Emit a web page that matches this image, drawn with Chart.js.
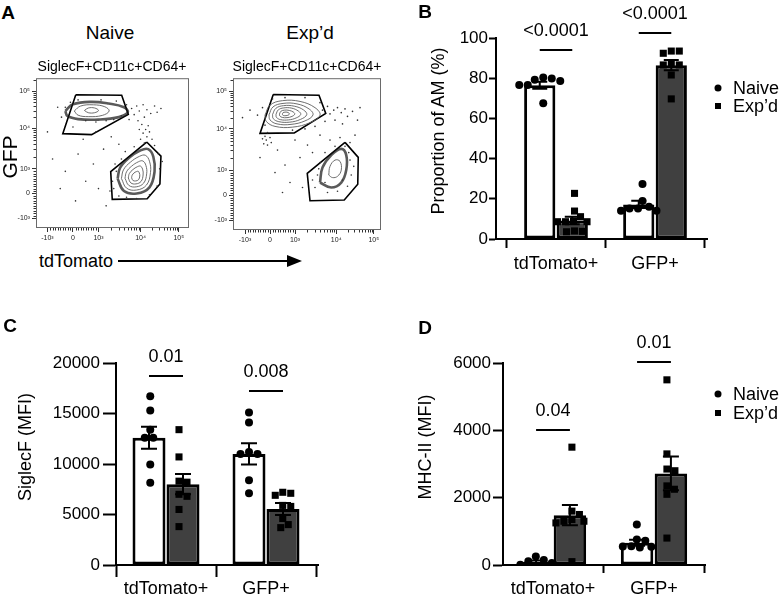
<!DOCTYPE html>
<html><head><meta charset="utf-8">
<script src="https://cdn.jsdelivr.net/npm/chart.js@4.4.1/dist/chart.umd.min.js"></script>
<style>
html,body{margin:0;padding:0;background:#fff;}
body{width:781px;height:599px;position:relative;overflow:hidden;font-family:"Liberation Sans",Arial,Helvetica,sans-serif;color:#000;}
canvas{position:absolute;}
.t{position:absolute;white-space:nowrap;line-height:1;transform:translate(-50%,-50%);}
.l{position:absolute;white-space:nowrap;line-height:1;transform:translateY(-50%);}
.r{position:absolute;white-space:nowrap;line-height:1;transform:translate(-50%,-50%) rotate(-90deg);}
.bold{font-weight:bold;}
.dot{position:absolute;width:7px;height:7px;border-radius:50%;background:#000;transform:translate(-50%,-50%);}
.sq{position:absolute;width:6px;height:6px;background:#000;transform:translate(-50%,-50%);}
</style></head><body>
<canvas id="flowN" width="195" height="175" style="left:0;top:72px"></canvas>
<canvas id="flowE" width="195" height="175" style="left:195px;top:72px"></canvas>
<canvas id="chartB" width="391" height="300" style="left:390px;top:0"></canvas>
<canvas id="chartC" width="390" height="299" style="left:0;top:300px"></canvas>
<canvas id="chartD" width="391" height="299" style="left:390px;top:300px"></canvas>

<div class="t bold" style="left:8px;top:12px;font-size:19px">A</div>
<div class="t" style="left:110px;top:32px;font-size:19px">Naive</div>
<div class="t" style="left:310px;top:32px;font-size:19px">Exp’d</div>
<div class="t" style="left:112px;top:66px;font-size:14px">SiglecF+CD11c+CD64+</div>
<div class="t" style="left:307px;top:66px;font-size:14px">SiglecF+CD11c+CD64+</div>
<div class="r" style="left:9px;top:157px;font-size:21px">GFP</div>
<div class="l" style="left:39px;top:261px;font-size:18px">tdTomato</div>
<svg style="position:absolute;left:0;top:249px" width="320" height="25">
  <line x1="118" y1="12" x2="292" y2="12" stroke="#000" stroke-width="2"/>
  <polygon points="302,12 287,6 287,18" fill="#000"/>
</svg>

<div class="t bold" style="left:425px;top:11px;font-size:19px">B</div>
<div class="r" style="left:438px;top:131px;font-size:18px">Proportion of AM (%)</div>
<div class="dot" style="left:718px;top:88px"></div>
<div class="l" style="left:733px;top:88px;font-size:18px">Naive</div>
<div class="sq" style="left:718px;top:106px"></div>
<div class="l" style="left:733px;top:106px;font-size:18px">Exp’d</div>

<div class="t bold" style="left:10px;top:325px;font-size:19px">C</div>
<div class="r" style="left:25px;top:447px;font-size:18px">SiglecF (MFI)</div>

<div class="t bold" style="left:425px;top:327px;font-size:19px">D</div>
<div class="r" style="left:425px;top:447px;font-size:18px">MHC-II (MFI)</div>
<div class="dot" style="left:718px;top:394px"></div>
<div class="l" style="left:733px;top:394px;font-size:18px">Naive</div>
<div class="sq" style="left:718px;top:413px"></div>
<div class="l" style="left:733px;top:413px;font-size:18px">Exp’d</div>

<script>
// ---------------- DATA ----------------
const groups = ['tdTomato+', 'GFP+'];
const seriesNames = ['Naive', 'Exp’d'];

// Panel B: Proportion of AM (%)
const propTicks = [0, 20, 40, 60, 80, 100];
const propNaiveMean = [76.5, 17.2];
const propNaiveSem = [1.7, 1.8];
const propExpMean = [9.2, 86.5];
const propExpSem = [1.9, 2.6];
const propNaivePts = [[80.4, 79.8, 79.2, 78.6, 76.6, 76.6, 67.5], [27.4, 18.9, 16.0, 15.2, 15.2, 14.0, 14.0]];
const propExpPts = [[22.7, 13.9, 11.1, 9.0, 8.6, 8.6, 8.6, 4.0, 3.8, 3.6], [93.5, 93.5, 92.4, 87.4, 86.6, 86.6, 81.6, 69.7]];
const propSigText = ['<0.0001', '<0.0001'];
const propSigY = [94, 102.5];

// Panel C: SiglecF (MFI)
const sigfTicks = [0, 5000, 10000, 15000, 20000];
const sigfNaiveMean = [12600, 11000];
const sigfNaiveSem = [1100, 1050];
const sigfExpMean = [8000, 5550];
const sigfExpSem = [1000, 600];
const sigfNaivePts = [[16700, 15300, 13400, 12600, 12600, 9950, 8150], [15100, 14100, 11200, 11000, 11000, 8400, 7100]];
const sigfExpPts = [[13400, 10700, 8300, 8200, 7000, 6800, 5500, 3800], [7200, 7100, 6900, 5900, 5800, 4600, 4000, 3700]];
const sigfSigText = ['0.01', '0.008'];
const sigfSigY = [18700, 17200];

// Panel D: MHC-II (MFI)
const mhcTicks = [0, 2000, 4000, 6000];
const mhcNaiveMean = [90, 660];
const mhcNaiveSem = [40, 90];
const mhcExpMean = [1480, 2720];
const mhcExpSem = [300, 500];
const mhcNaivePts = [[250, 150, 110, 60, 10], [1200, 760, 720, 560, 550, 540, 520]];
const mhcExpPts = [[3500, 1600, 1500, 1350, 1300, 1300, 1250, 100], [5500, 3300, 2850, 2800, 2350, 2250, 2100, 800]];
const mhcSigText = ['0.04', '0.01'];
const mhcSigY = [4000, 6030];

// Panel A: flow plots (biexponential display units: 0 -> 0, 1 -> 10^3)
const flowTickVals = [-1, 0, 1, 2.65, 4.15];
const flowTickLabels = ['-10³', '0', '10³', '10⁴', '10⁵'];

const naiveGateUpper = [[0.11,4.01],[1.91,3.99],[2.17,3.21],[0.73,2.39],[-0.40,2.43]];
const naiveGateLower = [[2.89,2.09],[3.45,1.52],[3.41,0.39],[2.91,-0.21],[1.54,-0.24],[1.48,0.89]];
const expGateUpper = [[0.13,4.03],[1.96,4.0],[2.23,3.27],[0.97,2.49],[-0.4,2.47]];
const expGateLower = [[3.0,2.11],[3.53,1.51],[3.51,0.43],[2.97,-0.2],[1.6,-0.23],[1.49,0.87]];

const naiveContoursUpper = [
  [[-0.3,3.35],[0.0,3.62],[0.7,3.72],[1.4,3.65],[2.0,3.5],[2.15,3.3],[1.8,3.1],[1.0,3.0],[0.2,3.02],[-0.22,3.15]],
  [[0.05,3.35],[0.3,3.55],[0.8,3.6],[1.25,3.52],[1.42,3.35],[1.15,3.17],[0.6,3.12],[0.2,3.18]],
  [[0.45,3.37],[0.6,3.47],[0.85,3.47],[1.0,3.37],[0.85,3.28],[0.6,3.28]]
];
const naiveContoursLower = [
  [[1.75,0.6],[1.85,1.05],[2.2,1.45],[2.65,1.75],[2.95,1.8],[3.15,1.5],[3.2,0.9],[3.0,0.25],[2.5,0.0],[2.0,0.1]],
  [[1.90,0.61],[1.98,0.96],[2.25,1.27],[2.61,1.51],[2.84,1.55],[3.0,1.31],[3.04,0.85],[2.88,0.34],[2.49,0.14],[2.1,0.22]],
  [[2.04,0.62],[2.1,0.88],[2.3,1.11],[2.57,1.29],[2.74,1.32],[2.86,1.14],[2.89,0.8],[2.77,0.42],[2.48,0.27],[2.19,0.33]],
  [[2.17,0.63],[2.21,0.81],[2.35,0.97],[2.53,1.09],[2.65,1.11],[2.73,0.99],[2.75,0.75],[2.67,0.49],[2.47,0.39],[2.27,0.43]],
  [[2.3,0.64],[2.32,0.74],[2.39,0.83],[2.49,0.89],[2.56,0.9],[2.6,0.84],[2.62,0.71],[2.57,0.56],[2.46,0.51],[2.35,0.53]]
];
const expContoursUpper = [
  [[-0.2,3.2],[0.0,3.6],[0.5,3.78],[1.2,3.75],[1.8,3.5],[2.0,3.2],[1.6,2.9],[0.9,2.72],[0.2,2.75],[-0.15,2.95]],
  [[-0.04,3.21],[0.12,3.53],[0.52,3.67],[1.08,3.65],[1.56,3.45],[1.72,3.21],[1.4,2.97],[0.84,2.83],[0.28,2.85],[0.0,3.01]],
  [[0.1,3.22],[0.23,3.47],[0.54,3.58],[0.97,3.56],[1.34,3.41],[1.47,3.22],[1.22,3.03],[0.79,2.92],[0.35,2.94],[0.13,3.06]],
  [[0.24,3.23],[0.33,3.41],[0.55,3.49],[0.87,3.48],[1.14,3.36],[1.23,3.23],[1.05,3.09],[0.74,3.01],[0.42,3.02],[0.26,3.11]],
  [[0.38,3.24],[0.43,3.35],[0.57,3.4],[0.77,3.39],[0.94,3.32],[0.99,3.24],[0.88,3.15],[0.68,3.1],[0.49,3.11],[0.39,3.17]],
  [[0.5,3.25],[0.52,3.3],[0.6,3.32],[0.68,3.32],[0.76,3.28],[0.78,3.25],[0.73,3.2],[0.64,3.18],[0.55,3.18],[0.5,3.21]]
];
const expContoursLower = [
  [[2.0,0.5],[2.1,1.1],[2.45,1.6],[2.85,1.85],[3.05,1.6],[3.05,1.0],[2.85,0.5],[2.45,0.3]],
  [[2.35,0.8],[2.4,1.15],[2.6,1.4],[2.8,1.35],[2.85,1.0],[2.7,0.75],[2.5,0.7]]
];

const naiveDots = [
  [-0.45,3.1],[-0.3,3.5],[-0.1,3.7],[0.2,3.8],[0.5,2.95],[0.9,2.9],[1.3,2.95],[1.6,3.0],[1.9,3.15],[2.1,3.6],
  [2.3,3.45],[2.4,3.2],[2.5,3.55],[2.6,3.35],[2.75,3.6],[2.8,3.1],[2.9,3.4],[3.05,3.25],[3.2,3.55],[3.3,3.3],
  [3.45,3.45],[2.2,3.0],[2.55,2.95],[-0.6,3.5],[-1.0,2.5],[0.0,2.7],[1.1,3.8],[1.7,3.75],
  [2.7,2.8],[2.85,2.6],[2.75,2.45],[2.9,2.3],[2.65,2.2],[3.0,2.5],[2.8,2.05],[2.6,2.6],[2.95,2.75],[3.1,2.2],
  [-0.8,1.4],[-0.3,0.9],[0.2,1.6],[0.5,0.5],[0.8,1.2],[1.0,0.2],[1.2,1.8],[0.4,2.2],[1.5,2.3],[1.8,2.0],
  [-0.5,0.2],[0.1,-0.3],[1.3,-0.5],[0.9,2.5],
  [1.6,0.2],[1.7,0.9],[1.55,0.5],[1.8,-0.1],[2.1,-0.15],[2.5,-0.2],[3.0,-0.05],[3.3,0.3],[3.4,1.0],[3.35,1.6],
  [3.2,1.95],[1.9,1.4],[2.05,1.7],[2.4,1.9],[3.5,1.3],[1.45,0.1],[1.65,1.2]
];
const expDots = [
  [-0.5,3.2],[-0.3,3.5],[-0.2,2.8],[0.1,3.85],[0.6,3.9],[1.4,3.9],[2.0,3.7],[2.1,3.4],[2.3,3.55],[2.4,3.25],
  [2.55,3.4],[2.7,3.5],[2.85,3.3],[3.0,3.45],[3.1,3.15],[3.3,3.35],[3.5,3.0],[3.6,3.5],[2.2,2.95],[2.6,3.0],
  [2.9,2.85],[1.8,2.75],[1.4,2.65],[-0.8,3.4],[-1.1,3.1],[0.9,2.6],
  [-0.1,2.5],[-0.2,2.35],[-0.15,2.2],[-0.25,2.05],[-0.1,2.0],[0.0,2.3],[-0.3,2.25],[0.05,2.1],
  [0.3,1.8],[0.6,1.2],[0.8,0.5],[1.2,1.5],[0.2,0.9],[1.5,2.0],[1.0,2.2],[1.7,1.7],[0.5,0.1],[1.3,0.3],
  [-0.4,1.5],[2.0,2.4],[2.4,2.2],[2.8,2.3],[3.2,2.1],[3.4,2.4],
  [1.8,0.3],[1.9,0.8],[2.0,1.3],[2.2,1.7],[2.6,1.95],[3.0,1.95],[3.2,1.4],[3.25,0.8],[3.1,0.35],[2.7,0.15],
  [2.3,0.1],[1.7,0.6],[2.2,0.5],[2.9,0.6],[3.15,1.7],[1.95,1.05],[3.35,1.15]
];

// ---------------- RENDER ----------------
Chart.defaults.font.family = '"Liberation Sans", Arial, Helvetica, sans-serif';
Chart.defaults.color = '#000';

function pairsToPoints(arr) { return arr.map(p => ({x: p[0], y: p[1]})); }
function closed(arr) { return pairsToPoints(arr.concat([arr[0]])); }

// axis decoration: minor tick positions of the biexponential axis
const flowMinorTicks = (() => {
  const t = [];
  for (let v = -900; v <= 900; v += 100) if (v !== 0) t.push(v / 1000);
  for (let m = 2; m <= 9; m++) t.push(1 + Math.log10(m) * 1.65);
  for (let m = 2; m <= 9; m++) t.push(2.65 + Math.log10(m) * 1.5);
  for (let m = 2; m <= 3; m++) t.push(4.15 + Math.log10(m) * 1.5);
  return t;
})();

const flowFrame = {
  id: 'flowFrame',
  afterDraw(chart) {
    const {ctx, chartArea: a, scales} = chart;
    ctx.save();
    ctx.strokeStyle = '#6a6a6a'; ctx.lineWidth = 1;
    ctx.strokeRect(a.left + 0.5, a.top + 0.5, a.right - a.left - 1, a.bottom - a.top - 1);
    ctx.strokeStyle = '#333'; ctx.beginPath();
    flowMinorTicks.forEach(u => {
      const x = Math.round(scales.x.getPixelForValue(u)) + 0.5;
      if (x >= a.left && x <= a.right) { ctx.moveTo(x, a.bottom); ctx.lineTo(x, a.bottom + 2.5); }
      const y = Math.round(scales.y.getPixelForValue(u)) + 0.5;
      if (y >= a.top && y <= a.bottom) { ctx.moveTo(a.left, y); ctx.lineTo(a.left - 2.5, y); }
    });
    ctx.stroke(); ctx.restore();
  }
};

function flowAxis(min, max, size, isX) {
  return {
    type: 'linear', min, max,
    afterBuildTicks: ax => { ax.ticks = flowTickVals.map(v => ({value: v})); },
    afterFit: ax => { if (isX) ax.height = size; else ax.width = size; },
    ticks: {autoSkip: false, maxRotation: 0, font: {size: 7}, color: '#222', padding: 2,
            callback: (v, i) => flowTickLabels[i]},
    grid: {drawOnChartArea: false, drawTicks: true, tickLength: 4, tickColor: '#333', tickWidth: 1},
    border: {display: false}
  };
}

function makeFlow(id, cfg) {
  const ds = [{label: 'events', data: pairsToPoints(cfg.dots), pointRadius: 0.8,
               pointBackgroundColor: '#333', pointBorderWidth: 0, showLine: false}];
  cfg.pops.forEach((pop, pi) => pop.forEach((ring, k) => {
    const halo = k === 0 && cfg.halos[pi];
    ds.push({label: 'contour', data: closed(ring), showLine: true, tension: 0.4, pointRadius: 0,
             borderColor: halo ? 'rgba(20,20,20,0.7)' : '#5e5e5e', borderWidth: halo ? 2.6 : 0.9});
  }));
  cfg.gates.forEach(g => ds.push({label: 'gate', data: closed(g), showLine: true, tension: 0,
             pointRadius: 0, borderColor: '#000', borderWidth: 1.6}));
  new Chart(document.getElementById(id), {
    type: 'scatter',
    data: {datasets: ds},
    options: {
      responsive: false, animation: false, events: [],
      layout: {padding: cfg.pad},
      plugins: {legend: {display: false}, tooltip: {enabled: false}},
      scales: {x: flowAxis(cfg.xr[0], cfg.xr[1], cfg.xh, true), y: flowAxis(cfg.yr[0], cfg.yr[1], cfg.yw, false)}
    },
    plugins: [flowFrame]
  });
}

makeFlow('flowN', {
  dots: naiveDots, pops: [naiveContoursUpper, naiveContoursLower], halos: [true, true],
  gates: [naiveGateUpper, naiveGateLower],
  pad: {left: 0, top: 4, right: 6, bottom: 0}, xr: [-1.45, 4.55], yr: [-1.4, 4.68], xh: 19, yw: 36
});
makeFlow('flowE', {
  dots: expDots, pops: [expContoursUpper, expContoursLower], halos: [false, true],
  gates: [expGateUpper, expGateLower],
  pad: {left: 0, top: 6, right: 9, bottom: 0}, xr: [-1.48, 4.44], yr: [-1.4, 4.68], xh: 17, yw: 38
});

function makeBarChart(id, cfg) {
  const bars = means => means.map((m, i) => ({x: i, y: m}));
  const pts = arr => arr.flatMap((vals, g) => vals.map(v => ({x: g, y: v, g})));
  const fam = Chart.defaults.font.family;

  const errPlugin = {
    id: 'errbars',
    afterDatasetsDraw(chart) {
      const ctx = chart.ctx, ys = chart.scales.y;
      ctx.save(); ctx.strokeStyle = '#000'; ctx.lineWidth = 2;
      [cfg.naiveSem, cfg.expSem].forEach((sems, d) => {
        const meta = chart.getDatasetMeta(d);
        const data = chart.data.datasets[d].data;
        meta.data.forEach((el, i) => {
          const m = data[i].y, s = sems[i];
          const x = el.x, yt = ys.getPixelForValue(m + s), yb = ys.getPixelForValue(Math.max(0, m - s));
          const c = cfg.cap / 2;
          ctx.beginPath();
          ctx.moveTo(x, yt); ctx.lineTo(x, yb);
          ctx.moveTo(x - c, yt); ctx.lineTo(x + c, yt);
          ctx.moveTo(x - c, yb); ctx.lineTo(x + c, yb);
          ctx.stroke();
        });
      });
      ctx.restore();
    }
  };
  const sigPlugin = {
    id: 'sig',
    afterDraw(chart) {
      const ctx = chart.ctx, ys = chart.scales.y;
      const m0 = chart.getDatasetMeta(0), m1 = chart.getDatasetMeta(1);
      ctx.save();
      ctx.strokeStyle = '#000'; ctx.lineWidth = 2; ctx.fillStyle = '#000';
      ctx.font = '18px ' + fam; ctx.textAlign = 'center'; ctx.textBaseline = 'middle';
      groups.forEach((g, i) => {
        const x1 = m0.data[i].x, x2 = m1.data[i].x, y = Math.round(ys.getPixelForValue(cfg.sigY[i]));
        ctx.beginPath(); ctx.moveTo(x1, y); ctx.lineTo(x2, y); ctx.stroke();
        ctx.fillText(cfg.sigText[i], (x1 + x2) / 2, y - 19);
      });
      ctx.restore();
    }
  };

  const chart = new Chart(document.getElementById(id), {
    type: 'bar',
    data: {datasets: [
      {type: 'bar', label: seriesNames[0], data: bars(cfg.naiveMean), backgroundColor: '#ffffff',
       borderColor: '#000', borderWidth: 3, borderSkipped: false, order: 2,
       categoryPercentage: cfg.catPct, barPercentage: cfg.barPct},
      {type: 'bar', label: seriesNames[1], data: bars(cfg.expMean), backgroundColor: '#404040',
       borderColor: '#000', borderWidth: 3, borderSkipped: false, order: 2,
       categoryPercentage: cfg.catPct, barPercentage: cfg.barPct},
      {type: 'scatter', label: seriesNames[0] + ' values', data: pts(cfg.naivePts), pointStyle: 'circle',
       pointRadius: 4, pointBackgroundColor: '#000', pointBorderWidth: 0, order: 1},
      {type: 'scatter', label: seriesNames[1] + ' values', data: pts(cfg.expPts), pointStyle: 'rect',
       pointRadius: 5, pointBackgroundColor: '#000', pointBorderWidth: 0, order: 1}
    ]},
    options: {
      responsive: false, animation: false, events: [],
      layout: {padding: {left: 0, top: cfg.padTop, right: cfg.padRight, bottom: 0}},
      plugins: {legend: {display: false}, tooltip: {enabled: false}},
      scales: {
        x: {
          type: 'linear', min: cfg.xMin, max: cfg.xMax, offset: false,
          afterBuildTicks: ax => { ax.ticks = groups.map((g, i) => ({value: i})); },
          afterFit: ax => { ax.height = cfg.xHeight; },
          ticks: {autoSkip: false, maxRotation: 0, font: {size: 18}, color: '#000', padding: cfg.xPad,
                  callback: (v, i) => groups[i]},
          grid: {drawOnChartArea: false, drawTicks: true, tickLength: cfg.xTick, tickWidth: 2, tickColor: '#000'},
          border: {display: true, color: '#000', width: 2}
        },
        y: {
          type: 'linear', min: 0, max: cfg.yTicks[cfg.yTicks.length - 1],
          afterBuildTicks: ax => { ax.ticks = cfg.yTicks.map(v => ({value: v})); },
          afterFit: ax => { ax.width = cfg.yWidth; },
          ticks: {autoSkip: false, font: {size: 17}, color: '#000', padding: cfg.yPad,
                  callback: v => String(v)},
          grid: {drawOnChartArea: false, drawTicks: true, tickLength: cfg.yTick, tickWidth: 2, tickColor: '#000'},
          border: {display: true, color: '#000', width: 2}
        }
      }
    },
    plugins: [errPlugin, sigPlugin]
  });

  // beeswarm placement of the individual values around their bar centre
  const xs = chart.scales.x, ys = chart.scales.y;
  [[2, 0, 8.5], [3, 1, 8]].forEach(([pd, bd, D]) => {
    const barEls = chart.getDatasetMeta(bd).data;
    const placed = {};
    const pdata = chart.data.datasets[pd].data;
    pdata.forEach(p => {
      const py = ys.getPixelForValue(p.y);
      const list = placed[p.g] || (placed[p.g] = []);
      let dx = 0;
      for (let k = 0; k < 400; k++) {
        const c = k === 0 ? 0 : ((k % 2) ? 1 : -1) * Math.ceil(k / 2) * 0.5;
        if (list.every(q => (c - q.dx) ** 2 + (py - q.py) ** 2 >= D * D)) { dx = c; break; }
      }
      const q = {dx, py, p};
      list.push(q);
    });
    Object.keys(placed).forEach(g => {
      const list = placed[g];
      const lo = Math.min(...list.map(q => q.dx)), hi = Math.max(...list.map(q => q.dx));
      const shift = (lo + hi) / 2;
      const cx = barEls[g].x;
      list.forEach(q => { q.p.x = xs.getValueForPixel(cx + q.dx - shift); });
    });
  });
  chart.update('none');
  return chart;
}

makeBarChart('chartB', {
  naiveMean: propNaiveMean, naiveSem: propNaiveSem, expMean: propExpMean, expSem: propExpSem,
  naivePts: propNaivePts, expPts: propExpPts, sigText: propSigText, sigY: propSigY, yTicks: propTicks,
  padTop: 38, padRight: 74, yWidth: 106, xHeight: 61, xMin: -0.606, xMax: 1.525,
  catPct: 0.657, barPct: 0.96, xTick: 9, xPad: 5, yTick: 7, yPad: 1, cap: 15
});
makeBarChart('chartC', {
  naiveMean: sigfNaiveMean, naiveSem: sigfNaiveSem, expMean: sigfExpMean, expSem: sigfExpSem,
  naivePts: sigfNaivePts, expPts: sigfExpPts, sigText: sigfSigText, sigY: sigfSigY, yTicks: sigfTicks,
  padTop: 63, padRight: 72, yWidth: 116, xHeight: 34, xMin: -0.5, xMax: 1.52,
  catPct: 0.68, barPct: 0.97, xTick: 12, xPad: 1, yTick: 13, yPad: 3, cap: 16
});
makeBarChart('chartD', {
  naiveMean: mhcNaiveMean, naiveSem: mhcNaiveSem, expMean: mhcExpMean, expSem: mhcExpSem,
  naivePts: mhcNaivePts, expPts: mhcExpPts, sigText: mhcSigText, sigY: mhcSigY, yTicks: mhcTicks,
  padTop: 63, padRight: 76, yWidth: 113, xHeight: 34, xMin: -0.495, xMax: 1.505,
  catPct: 0.67, barPct: 0.96, xTick: 8, xPad: 5, yTick: 10, yPad: 2, cap: 16
});
</script>
</body></html>
